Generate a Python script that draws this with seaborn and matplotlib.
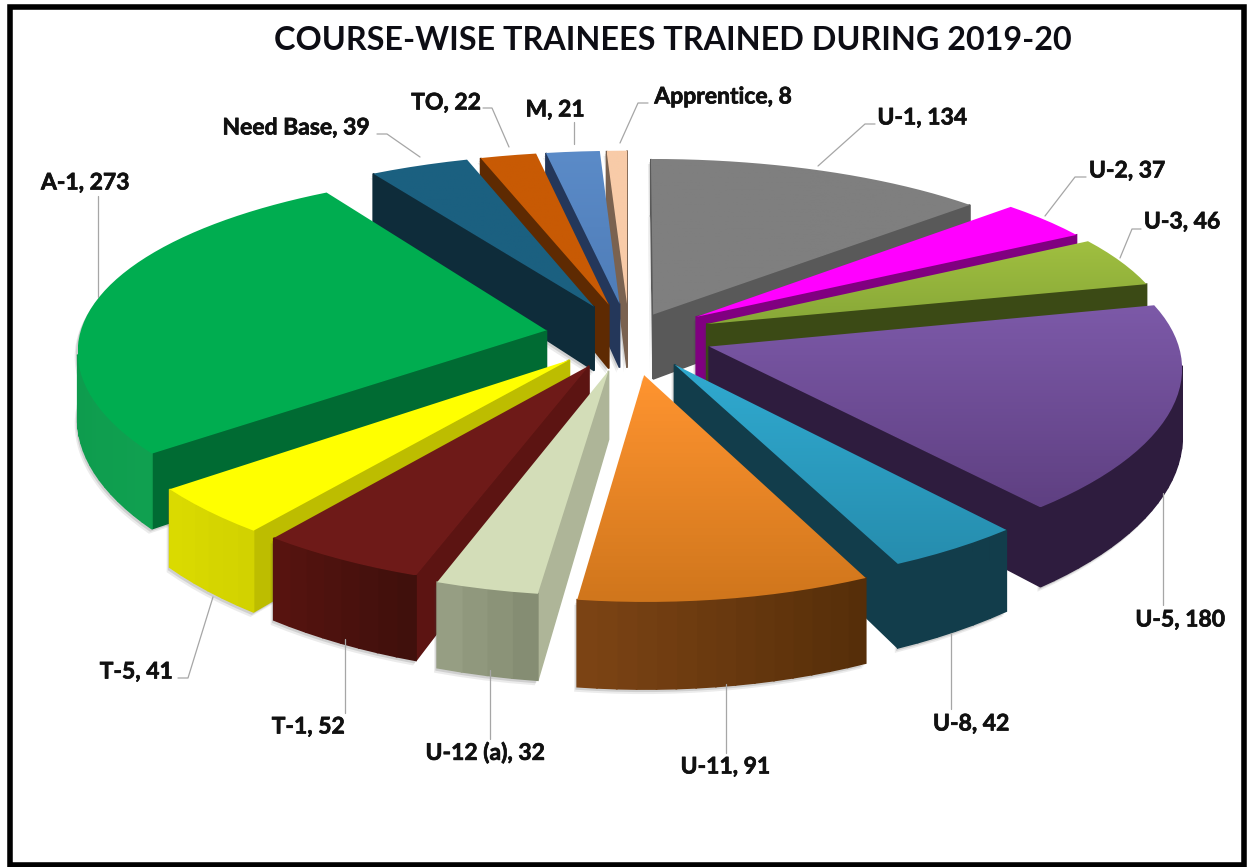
import numpy as np
import matplotlib
matplotlib.use('Agg')
import matplotlib.pyplot as plt
import matplotlib.patheffects as pe
from matplotlib.patches import Polygon, Rectangle
import seaborn as sns

sns.set_theme(style='white')
plt.rcParams['font.family'] = ['Lato', 'DejaVu Sans']

# data, clockwise from the top
courses = ['U-1', 'U-2', 'U-3', 'U-5', 'U-8', 'U-11', 'U-12 (a)', 'T-1', 'T-5',
           'A-1', 'Need Base', 'TO', 'M', 'Apprentice']
trainees = [134, 37, 46, 180, 42, 91, 32, 52, 41, 273, 39, 22, 21, 8]

# colours: top gradient (back, front), cut face, outer wall (left, right)
top_colors = [('#7F7F7F', '#7F7F7F'), ('#FF00FF', '#FF00FF'), ('#A0BF40', '#88A838'),
              ('#7C59A8', '#5F4082'), ('#30AAD0', '#268DAE'), ('#FF9430', '#D0761C'),
              ('#D3DDB8', '#D3DDB8'), ('#6E1A18', '#6E1A18'), ('#FFFF00', '#FFFF00'),
              ('#00AD50', '#00AD50'), ('#1B6080', '#1B6080'), ('#C85A04', '#C85A04'),
              ('#5B8BC8', '#4F7DB8'), ('#F8CBA8', '#F8CBA8')]
cut_colors = ['#595959', '#800080', '#3B4A15', '#2E1C3E', '#123D4B', '#5A300C',
              '#AEB598', '#5C1412', '#BDBD00', '#006B33', '#0E2C3A', '#5E2A02',
              '#24375A', '#7A6250']
wall_colors = [('#595959', '#595959'), ('#800080', '#800080'), ('#3B4A15', '#3B4A15'),
               ('#2E1C3E', '#2E1C3E'), ('#123D4B', '#123D4B'), ('#7E4515', '#562E09'),
               ('#9CA488', '#858D73'), ('#5A1410', '#40100C'), ('#DCDC00', '#D2D200'),
               ('#089048', '#10A050'), ('#0E2C3A', '#0E2C3A'), ('#5E2A02', '#5E2A02'),
               ('#24375A', '#24375A'), ('#7A6250', '#7A6250')]

# label centres and leader lines, in picture pixels
label_pos = [(922, 118), (1127, 171), (1182, 222), (1180, 620), (971, 724), (725, 767),
             (485, 753), (308, 727), (136, 672), (85, 183), (296, 128), (446, 103),
             (555, 110), (723, 97)]
leaders = [[(875, 124), (865, 124), (818, 166)], [(1086, 177), (1075, 177), (1045, 216)],
           [(1141, 229), (1132, 229), (1120, 258)], [(1163, 493), (1163, 605)],
           [(951, 633), (951, 709)], [(726, 684), (726, 753)], [(490, 670), (490, 739)],
           [(345, 639), (345, 713)], [(178, 678), (188, 678), (213, 597)],
           [(98, 196), (98, 297)], [(377, 134), (387, 134), (420, 157)],
           [(483, 108), (492, 108), (509, 147)], [(574, 122), (574, 144)],
           [(648, 103), (638, 103), (620, 143)]]

# pie geometry
cx, cy = 629, 336
rx, ry = 467, 183
persp_x = 0.10
persp_y = 0.14
depth = 66
explode = [0.13, 0.18, 0.18, 0.18, 0.18, 0.21, 0.19, 0.18, 0.18, 0.18, 0.18, 0.18, 0.18, 0.18]


def project(X, Y):
    sx = 1 / (1 - persp_x * Y)
    sy = 1 / (1 - persp_y * Y)
    return cx + rx * X * sx, cy + ry * Y * sy, depth * sy ** 1.5


fig = plt.figure(figsize=(12.49, 8.67), dpi=100)
ax = fig.add_axes([0, 0, 1, 1])
ax.set_xlim(0, 1249)
ax.set_ylim(867, 0)
ax.axis('off')

values = np.array(trainees, dtype=float)
edges = np.concatenate([[0], np.cumsum(values)]) / values.sum() * 2 * np.pi
mids = (edges[:-1] + edges[1:]) / 2
order = np.argsort(-np.cos(mids))

z = 2
for i in order:
    ox, oy = explode[i] * np.sin(mids[i]), -explode[i] * np.cos(mids[i])
    n = max(4, int(np.degrees(edges[i + 1] - edges[i]) / 2))
    th = np.linspace(edges[i], edges[i + 1], n)
    Xs = np.concatenate([[ox], ox + np.sin(th)])
    Ys = np.concatenate([[oy], oy - np.cos(th)])
    px, py, pd = project(Xs, Ys)

    # soft shadow of the block
    sil = np.column_stack([np.r_[px, px[::-1]], np.r_[py, (py + pd)[::-1]]])
    for off, alpha in [(5, 0.10), (3, 0.16)]:
        ax.add_patch(Polygon(sil + [-off * 0.6, off], closed=True, fc='#404040',
                             ec='none', alpha=alpha, zorder=z))
    z += 1

    # walls, only those facing the viewer
    pal = sns.blend_palette(wall_colors[i], n)
    m = len(px)
    for j in range(m):
        k = (j + 1) % m
        if px[k] >= px[j]:
            continue
        is_cut = j == 0 or k == 0
        col = cut_colors[i] if is_cut else pal[n - 1 - int((j - 1) * (n - 1) / max(m - 2, 1))]
        quad = [(px[j], py[j]), (px[k], py[k]), (px[k], py[k] + pd[k]), (px[j], py[j] + pd[j])]
        ax.add_patch(Polygon(quad, closed=True, fc=col, ec=col, lw=1.2, zorder=z))
    z += 1

    # top face with a vertical gradient
    top = Polygon(np.column_stack([px, py]), closed=True, fc='none', ec='none',
                  transform=ax.transData)
    ax.add_patch(top)
    cmap = sns.blend_palette(top_colors[i], as_cmap=True)
    ax.imshow(np.linspace(0, 1, 64).reshape(-1, 1), cmap=cmap, aspect='auto',
              extent=(px.min(), px.max(), py.max(), py.min()), clip_path=top, zorder=z)
    z += 1

ax.set_xlim(0, 1249)
ax.set_ylim(867, 0)

for course, n_tr, pos, line in zip(courses, trainees, label_pos, leaders):
    xs, ys = zip(*line)
    ax.plot(xs, ys, color='#A6A6A6', lw=0.9, zorder=z)
    ax.text(pos[0], pos[1], f'{course}, {n_tr}', ha='center', va='center',
            fontsize=16.5, fontweight='bold', color='#111111', zorder=z + 1,
            path_effects=[pe.withStroke(linewidth=0.5, foreground='#111111')])

ax.text(673, 40, 'COURSE-WISE TRAINEES TRAINED DURING 2019-20', ha='center', va='center',
        fontsize=23.3, fontweight='bold', color='#0D0D14', zorder=z + 1)

# black frame of the picture
ax.add_patch(Rectangle((10, 6.5), 1234.5, 858, fc='none', ec='black', lw=4, zorder=z + 2))

sns.despine(fig=fig, left=True, bottom=True)
fig.savefig('out.png', dpi=100)
